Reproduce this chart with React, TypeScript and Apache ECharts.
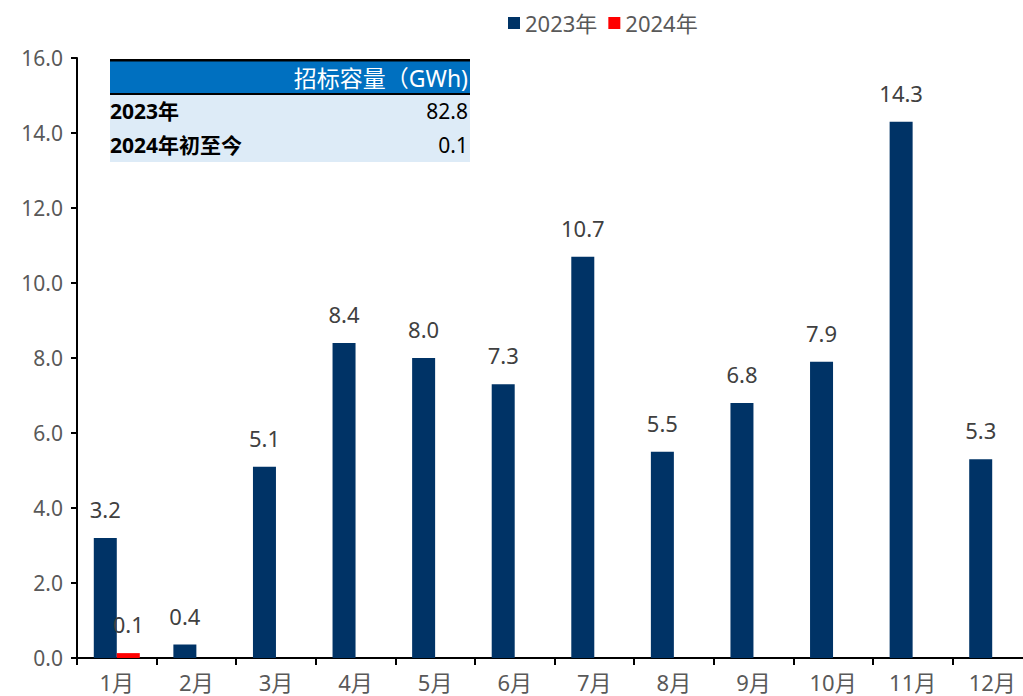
import React, { useEffect, useRef } from "react";
import * as echarts from "echarts";

const categories = ["1月", "2月", "3月", "4月", "5月", "6月", "7月", "8月", "9月", "10月", "11月", "12月"];
const values2023 = [3.2, 0.36, 5.1, 8.4, 8.0, 7.3, 10.7, 5.5, 6.8, 7.9, 14.3, 5.3];
const values2024: (number | null)[] = [0.13, null, null, null, null, null, null, null, null, null, null, null];
const yTicks = { min: 0, max: 16, interval: 2 };
const tableHeader = "招标容量（GWh)";
const tableRows = [
  ["2023年", "82.8"],
  ["2024年初至今", "0.1"],
];

const FONT = "'Noto Sans', 'Noto Sans CJK SC', sans-serif";

export default function App() {
  const ref = useRef<HTMLDivElement>(null);
  useEffect(() => {
    if (!ref.current) return;
    const chart = echarts.init(ref.current, null, { renderer: "svg" });
    const labelStyle = {
      show: true,
      position: "top" as const,
      distance: 18,
      color: "#404040",
      fontSize: 22,
      fontFamily: FONT,
      formatter: (p: any) => (p.value == null ? "" : Number(p.value).toFixed(1)),
    };
    const tableX = 110;
    const tableR = 470;
    const graphics: any[] = [
      { type: "rect", shape: { x: tableX, y: 61, width: tableR - tableX, height: 32 }, style: { fill: "#0070C0" }, z: 10 },
      { type: "rect", shape: { x: tableX, y: 95, width: tableR - tableX, height: 67 }, style: { fill: "#DDEBF7" }, z: 10 },
      { type: "rect", shape: { x: tableX, y: 59, width: tableR - tableX, height: 2.5 }, style: { fill: "#000" }, z: 11 },
      { type: "rect", shape: { x: tableX, y: 93, width: tableR - tableX, height: 2 }, style: { fill: "#000" }, z: 11 },
      {
        type: "text", x: tableR - 2, y: 78, z: 12,
        style: { text: tableHeader, fill: "#fff", fontSize: 23, fontFamily: FONT, align: "right", verticalAlign: "middle" },
      },
    ];
    tableRows.forEach((row, i) => {
      const y = 111 + i * 34;
      graphics.push({
        type: "text", x: tableX, y, z: 12,
        style: { text: row[0], fill: "#000", fontSize: 21, fontWeight: "bold", fontFamily: FONT, align: "left", verticalAlign: "middle" },
      });
      graphics.push({
        type: "text", x: tableR - 2, y, z: 12,
        style: { text: row[1], fill: "#000", fontSize: 21, fontFamily: FONT, align: "right", verticalAlign: "middle" },
      });
    });
    chart.setOption({
      animation: false,
      textStyle: { fontFamily: FONT },
      legend: {
        left: 503,
        top: 7,
        itemWidth: 12,
        itemHeight: 12,
        itemGap: 11,
        icon: "rect",
        textStyle: { color: "#595959", fontSize: 22, fontFamily: FONT },
        data: ["2023年", "2024年"],
      },
      grid: { left: 77, top: 58, height: 600, width: 955, outerBoundsMode: "none", containLabel: false },
      xAxis: {
        type: "category",
        data: categories,
        axisLine: { lineStyle: { color: "#000", width: 2 } },
        axisTick: { show: true, length: 7, interval: 0, lineStyle: { color: "#000", width: 2 } },
        axisLabel: { color: "#595959", fontSize: 22, fontFamily: FONT, margin: 13, interval: 0 },
      },
      yAxis: {
        type: "value",
        min: yTicks.min,
        max: yTicks.max,
        interval: yTicks.interval,
        axisLine: { show: true, lineStyle: { color: "#000", width: 2 } },
        axisTick: { show: true, length: 6, lineStyle: { color: "#000", width: 2 } },
        splitLine: { show: false },
        axisLabel: { color: "#595959", fontSize: 21, fontFamily: FONT, margin: 14, formatter: (v: number) => v.toFixed(1) },
      },
      series: [
        { name: "2023年", type: "bar", data: values2023, barWidth: 23, barGap: "0%", itemStyle: { color: "#003366" }, label: labelStyle },
        { name: "2024年", type: "bar", data: values2024, barWidth: 23, barGap: "0%", itemStyle: { color: "#FF0000" }, label: labelStyle },
      ],
      graphic: graphics,
    });
    return () => chart.dispose();
  }, []);
  return <div ref={ref} style={{ position: "absolute", left: 0, top: 0, width: 1023, height: 696 }} />;
}
